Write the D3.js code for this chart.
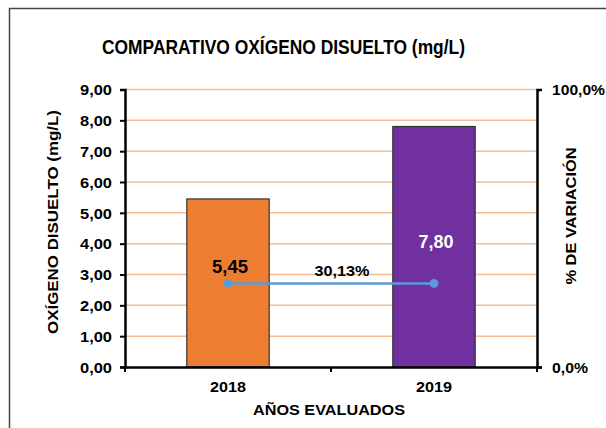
<!DOCTYPE html>
<html><head><meta charset="utf-8">
<script src="https://cdn.jsdelivr.net/npm/d3@7"></script>
<style>body{margin:0;background:#fff}text{font-family:"Liberation Sans",Arial,sans-serif;font-weight:bold;fill:#000}</style>
</head><body>
<svg id="c" width="606" height="428"></svg>
<script>
const categories = ["2018", "2019"];
const values = [5.45, 7.80];
const valueLabels = ["5,45", "7,80"];
const variation = [0.3013, 0.3013];
const variationLabel = "30,13%";
const yTicks = [0,1,2,3,4,5,6,7,8,9];
const y2Ticks = [0, 1];
const barColors = ["#ED7D31", "#7030A0"];

const svg = d3.select("#c");
const W = 606, H = 428;
const m = {left:125, right:537, top:89.5, bottom:367};

function fit(sel, len){ sel.attr("textLength", len).attr("lengthAdjust","spacingAndGlyphs"); return sel; }

// border
svg.append("path").attr("d", `M9.5,${H} L9.5,8.5 L${W},8.5`).attr("fill","none").attr("stroke","#444").attr("stroke-width",1.5);

const xOuter = d3.scaleBand().domain(categories).range([m.left, m.right]);
const barW = xOuter.bandwidth()*0.4;
const y = d3.scaleLinear().domain([0,9]).range([m.bottom, m.top]);
const y2 = d3.scaleLinear().domain([0,1]).range([m.bottom, m.top]);
const cx = c => xOuter(c) + xOuter.bandwidth()/2;

// gridlines
svg.append("g").selectAll("line").data(yTicks.slice(1)).join("line")
  .attr("x1", m.left).attr("x2", m.right)
  .attr("y1", d=>y(d)).attr("y2", d=>y(d))
  .attr("stroke","#F6BC94").attr("stroke-width",1.5);

// bars
svg.append("g").selectAll("rect").data(values).join("rect")
  .attr("x",(d,i)=>cx(categories[i])-barW/2).attr("width", barW)
  .attr("y", d=>y(d)).attr("height", d=>y(0)-y(d))
  .attr("fill",(d,i)=>barColors[i]).attr("stroke","#333").attr("stroke-width",1.2);

// left axis
const yAxis = d3.axisLeft(y).tickValues(yTicks).tickSize(5).tickPadding(8)
  .tickFormat(d=>d3.format(".2f")(d).replace(".",","));
const gy = svg.append("g").attr("transform",`translate(${m.left},0)`).call(yAxis);
gy.attr("font-size",null).attr("font-family",null);
gy.select(".domain").attr("stroke","#000").attr("stroke-width",2.5);
gy.selectAll(".tick line").attr("stroke","#000").attr("stroke-width",2);
gy.selectAll(".tick text").style("font-size","14.5px").attr("fill","#000").attr("dy","0.36em")
  .attr("textLength",32).attr("lengthAdjust","spacingAndGlyphs");

// right axis
const y2Axis = d3.axisRight(y2).tickValues(y2Ticks).tickSize(5).tickPadding(10)
  .tickFormat(d=>d3.format(".1f")(d*100).replace(".",",")+"%");
const gy2 = svg.append("g").attr("transform",`translate(${m.right},0)`).call(y2Axis);
gy2.attr("font-size",null).attr("font-family",null);
gy2.select(".domain").attr("stroke","#000").attr("stroke-width",2.5);
gy2.selectAll(".tick line").attr("stroke","#000").attr("stroke-width",2);
gy2.selectAll(".tick text").style("font-size","14.5px").attr("fill","#000").attr("dy","0.36em")
  .attr("textLength",d=>d===1?53:36).attr("lengthAdjust","spacingAndGlyphs");

// x axis
const xAxis = d3.axisBottom(xOuter).tickSize(0).tickPadding(14);
const gx = svg.append("g").attr("transform",`translate(0,${m.bottom})`).call(xAxis);
gx.attr("font-size",null).attr("font-family",null);
gx.select(".domain").attr("stroke","#000").attr("stroke-width",2.5);
gx.selectAll(".tick text").style("font-size","15.5px").attr("fill","#000")
  .attr("textLength",36).attr("lengthAdjust","spacingAndGlyphs");
const bounds = [m.left, ...categories.slice(1).map(c=>xOuter(c)), m.right];
svg.append("g").selectAll("line").data(bounds).join("line")
  .attr("x1",d=>d).attr("x2",d=>d).attr("y1",m.bottom).attr("y2",m.bottom+5)
  .attr("stroke","#000").attr("stroke-width",2);

// line
svg.append("path").datum(variation)
  .attr("d", d3.line().x((d,i)=>cx(categories[i])).y(d=>y2(d)))
  .attr("fill","none").attr("stroke","#5B9BD5").attr("stroke-width",2.5);
svg.append("g").selectAll("circle").data(variation).join("circle")
  .attr("cx",(d,i)=>cx(categories[i])).attr("cy",d=>y2(d)).attr("r",4.5).attr("fill","#5B9BD5");

// labels
fit(svg.append("text").attr("x", cx(categories[0])+2).attr("y", 273).attr("text-anchor","middle")
  .style("font-size","18.5px").text(valueLabels[0]), 36);
fit(svg.append("text").attr("x", cx(categories[1])+2).attr("y", 248).attr("text-anchor","middle")
  .style("font-size","18.5px").style("fill","#fff").text(valueLabels[1]), 35);
fit(svg.append("text").attr("x", 342).attr("y", 276).attr("text-anchor","middle")
  .style("font-size","15.5px").text(variationLabel), 55);

// titles
fit(svg.append("text").attr("x",283.5).attr("y",54).attr("text-anchor","middle").style("font-size","20.5px")
  .text("COMPARATIVO OXÍGENO DISUELTO (mg/L)"), 363);
fit(svg.append("text").attr("transform","translate(58,222) rotate(-90)").attr("text-anchor","middle").style("font-size","14.5px")
  .text("OXÍGENO  DISUELTO  (mg/L)"), 224);
fit(svg.append("text").attr("transform","translate(576,216) rotate(-90)").attr("text-anchor","middle").style("font-size","14.5px")
  .text("% DE VARIACIÓN"), 137);
fit(svg.append("text").attr("x",329).attr("y",415).attr("text-anchor","middle").style("font-size","15.5px")
  .text("AÑOS  EVALUADOS"), 152);
</script>
</body></html>
